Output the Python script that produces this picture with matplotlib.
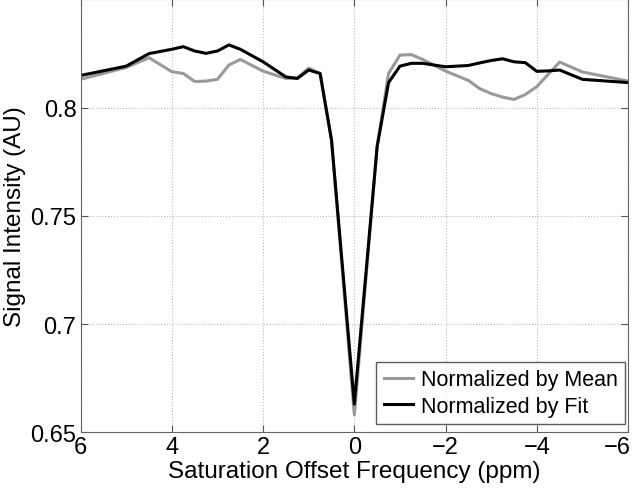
import numpy as np
import matplotlib
matplotlib.use("Agg")
from matplotlib import pyplot as plt
from matplotlib.transforms import ScaledTranslation

# saturation offsets (ppm) and normalized signal
offset = [6, 5, 4.5, 4, 3.75, 3.5, 3.25, 3, 2.75, 2.5, 2, 1.5, 1.25, 1, 0.75, 0.5, 0,
          -0.5, -0.75, -1, -1.25, -1.5, -2, -2.5, -2.75, -3, -3.25, -3.5, -3.75,
          -4, -4.25, -4.5, -5, -6]
by_mean = [0.8131, 0.8186, 0.8231, 0.8166, 0.8158, 0.8121, 0.8123, 0.8131, 0.8197, 0.8223,
           0.8169, 0.8135, 0.8137, 0.8183, 0.8158, 0.785, 0.658,
           0.782, 0.8158, 0.8243, 0.8245, 0.8223, 0.8169, 0.8126, 0.8088, 0.8065, 0.8049,
           0.8038, 0.8061, 0.8097, 0.8154, 0.8211, 0.8165, 0.8123]
by_fit = [0.8149, 0.8192, 0.825, 0.827, 0.8282, 0.8262, 0.8251, 0.8262, 0.829, 0.827,
          0.8212, 0.8142, 0.8135, 0.8174, 0.8158, 0.785, 0.663,
          0.782, 0.8116, 0.8192, 0.8205, 0.8205, 0.8189, 0.8195, 0.8207, 0.8218, 0.8226,
          0.8212, 0.8208, 0.8168, 0.817, 0.8174, 0.8131, 0.8116]

plt.rcParams['font.family'] = ['Liberation Sans', 'DejaVu Sans']

fig = plt.figure(figsize=(6.35, 4.89), dpi=100)
ax = fig.add_axes([0.127, 0.114, 0.862, 0.885])

ax.plot(offset, by_mean, color='#999999', lw=2.2, label='Normalized by Mean')
ax.plot(offset, by_fit, color='black', lw=2.2, label='Normalized by Fit')

ax.set_xlim(6, -6)
ax.set_ylim(0.65, 0.85)
ax.set_xticks([6, 4, 2, 0, -2, -4, -6])
ax.set_xticklabels(['6', '4', '2', '0', '\u22122', '\u22124', '\u22126'])
ax.set_yticks([0.65, 0.7, 0.75, 0.8])
ax.set_yticklabels(['0.65', '0.7', '0.75', '0.8'])
ax.tick_params(direction='in', top=True, right=True, labelsize=17, length=5,
               color='#555555', pad=3)
# last label sits at the figure edge; nudge it in a little
last = ax.get_xticklabels()[-1]
last.set_transform(last.get_transform() + ScaledTranslation(-11 / 100, 0, fig.dpi_scale_trans))
for s in ax.spines.values():
    s.set_color('#666666')
ax.grid(True, ls=':', color='#bbbbbb', lw=0.8)

ax.set_xlabel('Saturation Offset Frequency (ppm)', fontsize=17.5, labelpad=1)
ax.set_ylabel('Signal Intensity (AU)', fontsize=17.5, labelpad=3)

leg = ax.legend(loc='lower right', bbox_to_anchor=(0.9945, 0.0185), borderaxespad=0,
                fontsize=15.5, frameon=True, fancybox=False,
                handlelength=1.35, handletextpad=0.35,
                labelspacing=0.25, borderpad=0.35)
leg.get_frame().set_edgecolor('#333333')
leg.get_frame().set_linewidth(1.0)

fig.savefig('out.png', dpi=100)
